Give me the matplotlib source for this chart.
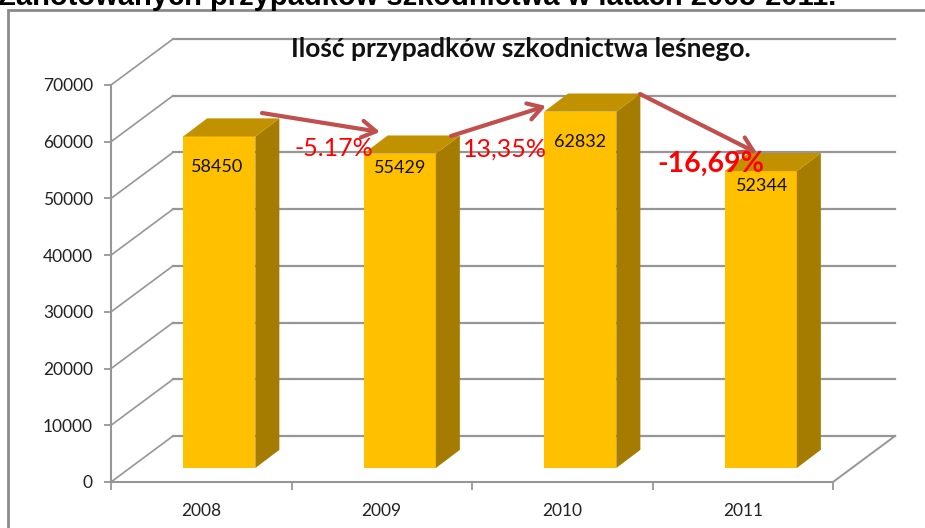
import matplotlib
matplotlib.use('Agg')
import matplotlib.pyplot as plt
from matplotlib.patches import Rectangle

years = ['2008', '2009', '2010', '2011']
cases = [58450, 55429, 62832, 52344]
yticks = [0, 10000, 20000, 30000, 40000, 50000, 60000, 70000]

heading = 'Zanotowanych przypadków szkodnictwa w latach 2008-2011.'
title = 'Ilość przypadków szkodnictwa leśnego.'
changes = ['-5.17%', '13,35%', '-16,69%']

W, H = 925, 528
GREY = '#969696'
FRONT = '#FFC000'
SIDE = '#A67C00'
TOP = '#C29100'
ARROW = '#C0504D'

# depth of the fake 3d box, in data units
wall_dx = 62 / 180.5
wall_dy = 8110
bar_dx = 24 / 180.5
bar_dy = 3200
bar_x = 18 / 180.5
bar_base = 2470
bar_w = 0.4

# value labels were dragged by hand in the original, so each has its own drop and shift
label_drop = [5400, 2600, 5400, 2600]
label_shift = [-0.012, 0.004, 0.0, 0.01]

plt.rcParams['font.family'] = ['Lato', 'DejaVu Sans']

fig = plt.figure(figsize=(W / 100, H / 100), dpi=100, facecolor='white')
ax = fig.add_axes([111 / W, 1 - 482 / H, 722 / W, 397 / H])
ax.set_xlim(-0.5, 3.5)
ax.set_ylim(0, 70000)
ax.patch.set_visible(False)

# frame of the pasted picture, runs off the right and bottom
fig.add_artist(Rectangle((8 / W, -0.05), 1.1, 1 - 10 / H + 0.05, transform=fig.transFigure,
                         fill=False, ec='#8a8a8a', lw=2))

# walls and floor
x0, x1 = ax.get_xlim()
for v in yticks:
    ax.plot([x0 + wall_dx, x1 + wall_dx], [v + wall_dy, v + wall_dy], color=GREY, lw=1.6,
            clip_on=False, zorder=1)
    ax.plot([x0, x0 + wall_dx], [v, v + wall_dy], color=GREY, lw=1.2, clip_on=False, zorder=1)
ax.plot([x1, x1 + wall_dx], [0, wall_dy], color=GREY, lw=1.4, clip_on=False, zorder=1)

# bars
for i, v in enumerate(cases):
    l = i - bar_w / 2 + bar_x
    r = l + bar_w
    b = bar_base
    t = b + v
    ax.bar(l, v, width=bar_w, bottom=b, align='edge', color=FRONT, clip_on=False, zorder=3)
    ax.fill([r, r + bar_dx, r + bar_dx, r], [b, b + bar_dy, t + bar_dy, t], color=SIDE,
            lw=0, clip_on=False, zorder=3)
    ax.fill([l, l + bar_dx, r + bar_dx, r], [t, t + bar_dy, t + bar_dy, t], color=TOP,
            lw=0, clip_on=False, zorder=3)
    ax.text(l + bar_w / 2 + label_shift[i], t - label_drop[i], str(v), ha='center', va='center',
            fontsize=13, color='#111111', zorder=4)

for s in ['top', 'right']:
    ax.spines[s].set_visible(False)
for s in ['left', 'bottom']:
    ax.spines[s].set_color(GREY)
    ax.spines[s].set_linewidth(1.5)

ax.set_yticks(yticks)
ax.set_xticks(range(len(years)))
ax.set_xticklabels(years)
ax.set_xticks([-0.5, 0.5, 1.5, 2.5, 3.5], minor=True)
ax.tick_params(axis='y', color=GREY, width=1.3, length=5, pad=8, labelsize=12.5, labelcolor='#222222')
ax.tick_params(axis='x', which='major', length=0, pad=15, labelsize=12.5, labelcolor='#222222')
ax.tick_params(axis='x', which='minor', color=GREY, width=1.3, length=6)

# annotations are placed by hand on the picture, in image pixels
def px(x, y):
    return (x, H - y)

arrows = [((262, 113), (380, 132)), ((451, 136), (546, 106)), ((640, 94), (757, 153))]
for start, end in arrows:
    ax.annotate('', xy=px(*end), xytext=px(*start), xycoords='figure pixels',
                textcoords='figure pixels', annotation_clip=False, zorder=6,
                arrowprops=dict(arrowstyle='->,head_length=1.0,head_width=0.6', color=ARROW,
                                lw=3, shrinkA=0, shrinkB=0))

fig.text(334 / W, 1 - 149 / H, changes[0], color='#FF0000', fontsize=18, ha='center', va='center', zorder=7)
fig.text(505 / W, 1 - 149 / H, changes[1], color='#FF0000', fontsize=18, ha='center', va='center', zorder=7)
fig.text(711 / W, 1 - 164 / H, changes[2], color='#FF0000', fontsize=20.5, fontweight='bold', ha='center', va='center', zorder=7)

fig.text(521 / W, 1 - 49 / H, title, fontsize=19, fontweight='bold', color='#111111', ha='center', va='center', zorder=7)
fig.text(417 / W, 1 - 5 / H, heading, fontsize=21, fontweight='bold', color='black',
         family=['Liberation Sans', 'DejaVu Sans'], ha='center', va='baseline', zorder=7)

fig.savefig('out.png', dpi=100, facecolor='white')
